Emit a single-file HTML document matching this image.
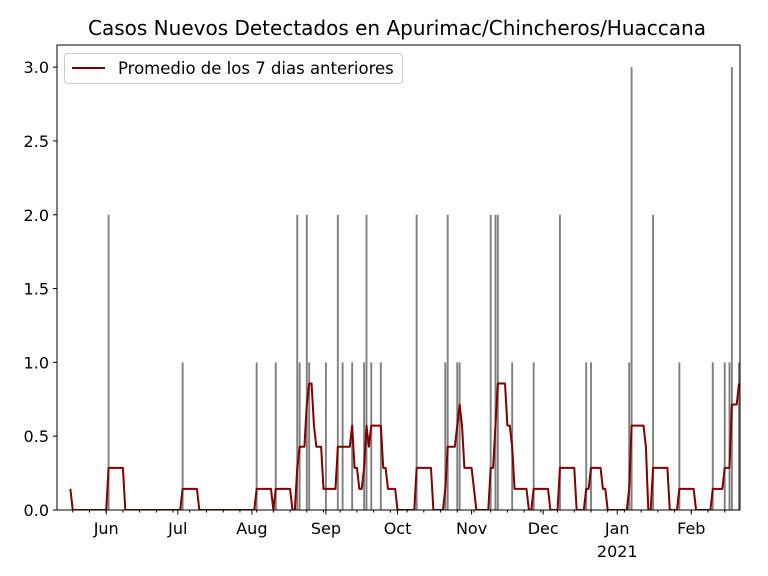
<!DOCTYPE html>
<html><head><meta charset="utf-8"><style>
body{margin:0;background:#fff;}
svg{display:block;font-family:"DejaVu Sans","Liberation Sans",sans-serif;}
</style></head><body>
<svg id="chart" width="768" height="576"></svg>
<script>
// daily case data: day offsets relative to 2020-06-01, and case counts
const caseDays = [-21, 1, 32, 63, 71, 80, 81, 84, 85, 92, 97, 99, 103, 108, 109, 111, 115, 130, 142, 143, 147, 148, 161, 163, 164, 170, 179, 190, 201, 203, 219, 220, 229, 240, 254, 259, 261, 262, 265];
const caseValues = [1, 2, 1, 1, 1, 2, 1, 2, 1, 1, 2, 1, 1, 1, 2, 1, 1, 2, 1, 2, 1, 1, 2, 2, 2, 1, 1, 2, 1, 1, 1, 3, 2, 1, 1, 1, 1, 3, 1];
const yTicks = [0, 0.5, 1.0, 1.5, 2.0, 2.5, 3.0];
const yTickLabels = ["0.0","0.5","1.0","1.5","2.0","2.5","3.0"];
const monthDays = [0, 30, 61, 92, 122, 153, 183, 214, 245];
const monthLabels = ["Jun","Jul","Aug","Sep","Oct","Nov","Dec","Jan","Feb"];
const lineStart = -15, lineEnd = 265;

const NS="http://www.w3.org/2000/svg";
const svg=document.getElementById('chart');
const L=57,R=740,T=45,B=510;
const xMin=-20.6,xMax=265.4,yMin=0,yMax=3.15;
const sx=d=>L+(d-xMin)/(xMax-xMin)*(R-L);
const sy=v=>B-(v-yMin)/(yMax-yMin)*(B-T);
function el(tag,attrs,parent){const e=document.createElementNS(NS,tag);for(const k in attrs)e.setAttribute(k,attrs[k]);(parent||svg).appendChild(e);return e;}

const title=el('text',{x:397,y:35,'text-anchor':'middle','font-size':'20',fill:'#000'});


title.textContent='Casos Nuevos Detectados en Apurimac/Chincheros/Huaccana';

const clip=el('clipPath',{id:'pc'});el('rect',{x:L,y:T,width:R-L,height:B-T},clip);
const plot=el('g',{'clip-path':'url(#pc)'});



// bars
const bw=0.8*(R-L)/(xMax-xMin);
caseDays.forEach((d,i)=>{
  const r=el('rect',{x:sx(d)-bw/2,y:sy(caseValues[i]),width:bw,height:sy(0)-sy(caseValues[i]),fill:'#808080'},plot);
  
  
});

// rolling 7-day average
const daily={};caseDays.forEach((d,i)=>daily[d]=(daily[d]||0)+caseValues[i]);
let pts=[];
for(let d=lineStart;d<=lineEnd;d++){let s=0;for(let k=0;k<7;k++)s+=daily[d-k]||0;pts.push(sx(d).toFixed(2)+','+sy(s/7).toFixed(2));}
const line=el('polyline',{points:pts.join(' '),fill:'none',stroke:'#800000','stroke-width':2,'stroke-linejoin':'round'},plot);



// frame
const frame=el('rect',{x:L,y:T,width:R-L,height:B-T,fill:'none',stroke:'#000','stroke-width':1});



// y ticks
yTicks.forEach((v,i)=>{
  el('line',{x1:L-4,x2:L,y1:sy(v),y2:sy(v),stroke:'#000'});
  const t=el('text',{x:L-8,y:sy(v)+6,'text-anchor':'end','font-size':'16'});
  
  
  t.textContent=yTickLabels[i];
});
// minor weekly ticks (Mondays)
for(let d=-14;d<=xMax;d+=7){if(d<xMin)continue;el('line',{x1:sx(d),x2:sx(d),y1:B,y2:B+2.5,stroke:'#000'});}
monthDays.forEach((d,i)=>{
  el('line',{x1:sx(d),x2:sx(d),y1:B,y2:B+4.5,stroke:'#000'});
  const t=el('text',{x:sx(d),y:B+24,'text-anchor':'middle','font-size':'16'});
  
  
  t.textContent=monthLabels[i];
});
const yr=el('text',{x:sx(214),y:B+47,'text-anchor':'middle','font-size':'16'});


yr.textContent='2021';

// legend
const lg=el('g',{});


el('rect',{x:64.5,y:53.5,width:338,height:30,rx:3,fill:'#fff',stroke:'#ccc'},lg);
el('line',{x1:72,x2:105,y1:68,y2:68,stroke:'#800000','stroke-width':2},lg);
const lt=el('text',{x:118,y:74,'font-size':'16.5'},lg);


lt.textContent='Promedio de los 7 dias anteriores';
</script>
</body></html>
